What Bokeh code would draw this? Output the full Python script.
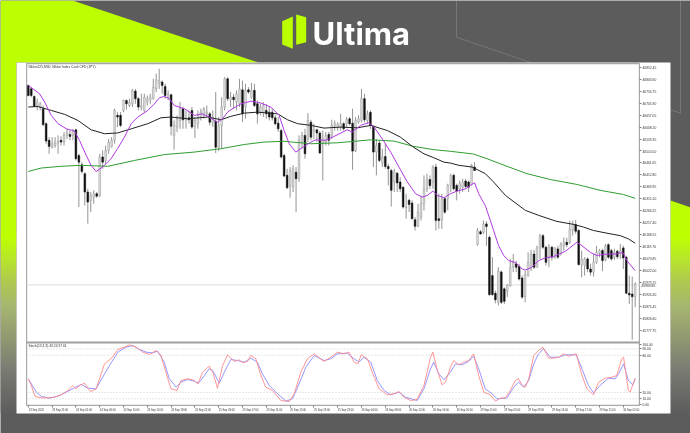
from bokeh.embed import file_html
from bokeh.resources import INLINE
from bokeh.plotting import figure
from bokeh.models import (BoxAnnotation, PolyAnnotation, Label, LinearAxis, FixedTicker,
                          Range1d, ColumnDataSource)

opens = [46778,46764,46733,46696,46690,46683,46622,46554,46526,46532,
46543,46554,46547,46574,46578,46574,46597,46492,46454,46418,
46343,46309,46322,46336,46329,46486,46472,46513,46529,46554,
46656,46656,46676,46717,46696,46703,46755,46724,46687,46676,
46710,46720,46724,46764,46788,46792,46774,46730,46740,46574,
46608,46635,46683,46638,46646,46676,46611,46622,46649,46656,
46662,46662,46628,46632,46526,46615,46690,46805,46720,46730,
46710,46703,46760,46690,46760,46730,46758,46703,46669,46669,
46676,46669,46669,46646,46624,46594,46492,46411,46366,46363,
46424,46397,46547,46574,46560,46628,46592,46597,46584,46540,
46547,46578,46574,46611,46608,46608,46622,46622,46642,46624,
46510,46628,46635,46724,46635,46669,46611,46506,46543,46461,
46488,46447,46431,46384,46420,46384,46363,46279,46309,46298,
46230,46203,46241,46295,46356,46394,46384,46445,46234,46230,
46316,46316,46370,46411,46370,46356,46363,46388,46384,46374,
46445,46129,46181,46179,46213,46158,46002,45930,45893,46017,
45948,45938,45961,46036,46050,46039,45992,45916,46002,46036,
46090,46036,46115,46165,46118,46077,46118,46077,46111,46090,
46124,46138,46138,46188,46210,46186,46047,46043,46070,46029,
46016,46056,46093,46104,46066,46128,46104,46077,46101,46093,
46115,46077,45930,45927,45916]
highs = [46782,46771,46737,46724,46710,46696,46628,46567,46567,46567,
46574,46570,46588,46601,46594,46601,46601,46499,46465,46424,
46356,46343,46350,46343,46499,46513,46533,46560,46567,46683,
46669,46669,46720,46720,46724,46764,46764,46730,46744,46744,
46737,46744,46805,46826,46846,46798,46785,46758,46744,46635,
46656,46710,46690,46676,46676,46690,46649,46676,46683,46690,
46696,46669,46676,46751,46649,46730,46812,46812,46751,46744,
46758,46805,46798,46785,46771,46788,46785,46717,46703,46710,
46703,46690,46683,46656,46649,46601,46499,46438,46445,46452,
46445,46574,46588,46601,46665,46638,46622,46601,46592,46594,
46588,46588,46638,46635,46628,46662,46628,46649,46649,46683,
46649,46656,46764,46744,46676,46676,46615,46560,46554,46520,
46540,46458,46438,46438,46424,46404,46366,46336,46316,46309,
46241,46295,46329,46411,46418,46411,46452,46458,46336,46336,
46322,46377,46418,46418,46377,46390,46397,46397,46390,46458,
46465,46196,46188,46226,46224,46165,46077,45941,46036,46022,
45954,45968,46070,46090,46063,46050,46002,46022,46097,46107,
46107,46124,46172,46172,46124,46131,46124,46118,46124,46138,
46158,46156,46226,46226,46229,46192,46104,46077,46077,46050,
46090,46124,46111,46111,46131,46134,46111,46111,46107,46131,
46124,46084,46002,45998,45975]
lows = [46733,46730,46690,46676,46676,46612,46540,46499,46520,46524,
46499,46533,46533,46560,46554,46554,46472,46282,46418,46288,
46214,46261,46295,46320,46322,46438,46458,46499,46524,46540,
46608,46608,46669,46679,46690,46690,46703,46676,46676,46669,
46696,46703,46720,46751,46764,46744,46724,46717,46574,46516,
46588,46601,46601,46601,46622,46601,46564,46601,46635,46642,
46649,46615,46608,46502,46510,46520,46676,46714,46690,46683,
46676,46690,46628,46642,46744,46724,46690,46622,46656,46649,
46642,46635,46635,46615,46588,46479,46404,46356,46320,46343,
46261,46384,46520,46479,46547,46554,46560,46547,46499,46390,
46533,46533,46560,46594,46594,46594,46594,46608,46615,46434,
46506,46622,46628,46628,46622,46601,46445,46411,46465,46445,
46438,46370,46284,46343,46343,46343,46275,46234,46261,46230,
46186,46200,46227,46268,46343,46356,46356,46186,46193,46193,
46254,46268,46343,46350,46309,46336,46343,46356,46343,46370,
46428,46124,46169,46172,46124,45920,45920,45889,45880,45886,
45886,45914,45957,46016,46016,45982,45907,45893,45998,46022,
46029,46036,46070,46111,46043,46036,46063,46070,46070,46084,
46104,46118,46131,46165,46172,46043,45995,46002,46016,46002,
45998,46050,46077,46020,46060,46070,46063,46066,46070,46070,
46029,45927,45886,45740,45873]
closes = [46737,46737,46692,46710,46703,46618,46551,46529,46540,46543,
46550,46547,46574,46584,46570,46592,46479,46465,46427,46343,
46302,46329,46336,46326,46486,46465,46513,46547,46554,46676,
46649,46615,46717,46703,46710,46758,46724,46690,46696,46730,
46724,46730,46771,46801,46798,46778,46737,46740,46611,46615,
46642,46683,46638,46646,46638,46608,46635,46656,46669,46683,
46669,46628,46649,46526,46615,46690,46805,46724,46730,46720,
46744,46764,46662,46758,46751,46758,46696,46662,46690,46696,
46662,46649,46646,46622,46601,46486,46408,46360,46431,46438,
46397,46554,46574,46499,46635,46567,46597,46584,46502,46560,
46574,46554,46615,46622,46619,46622,46601,46638,46622,46510,
46635,46642,46724,46638,46662,46615,46506,46533,46472,46486,
46447,46438,46350,46424,46380,46356,46282,46282,46292,46234,
46203,46261,46295,46356,46397,46370,46445,46227,46227,46316,
46261,46370,46411,46356,46347,46377,46384,46366,46363,46452,
46431,46186,46172,46213,46202,45924,45924,45903,46020,45893,
45897,45961,46036,46056,46036,45988,45914,46006,46056,46090,
46036,46115,46165,46118,46056,46118,46077,46114,46077,46131,
46138,46128,46192,46210,46183,46047,46070,46070,46029,46016,
46056,46097,46104,46063,46124,46077,46070,46097,46079,46104,
46074,45930,45923,45916,45968]

ma_fast_x = [0,1.6,3.8,5.5,7.7,10,12.8,15.5,17.2,19.5,21.1,22.8,25,27.8,30,32.3,34.6,36.8,40.2,42.4,44.1,45.7,47.4,49.1,52.5,55.8,58.6,60.8,63.6,65.3,67,
             68.1,71.5,74.8,78.2,81.5,84.3,86,87.7,89.9,92.1,95,96.6,100,102.8,107.2,108.9,111.7,114.5,116.2,119,121.8,124.6,127.4,130.2,132.4,134.1,136,137.5,139.7,141.9,
             144.1,147,148.6,150,151.4,153.6,155.3,156.4,158.1,159.8,161.5,163.7,166,167.1,169.3,171.5,173.8,176.6,180.5,184.4,186.1,188.9,191.1,194.5,197.8,199.8,201.2,204]
ma_fast_v = [46778,46764,46744,46710,46656,46622,46601,46592,46554,46492,46452,46427,46445,46479,46520,46567,46622,46649,46676,46703,46728,46733,46724,46696,46683,46656,46662,46649,46628,46642,46669,
             46679,46703,46714,46706,46690,46656,46594,46540,46506,46524,46547,46556,46554,46570,46597,46588,46615,46626,46608,46560,46506,46445,46384,46336,46322,46329,46347,46329,46320,46336,
             46347,46356,46370,46381,46336,46288,46227,46186,46124,46084,46063,46056,46029,46025,46036,46063,46074,46080,46101,46138,46124,46097,46084,46090,46090,46097,46063,46022]
ma_mid_x = [0,3.2,7.7,12.2,16.7,21.1,25.6,30,34.6,40.2,44.6,48,53.6,60.3,64.8,68.1,72.6,77,83.8,87.1,90.5,95,99.4,105,110.6,115.1,120.7,125.1,129.1,133,136.3,139.7,142,
            144.7,149.2,153.6,156.4,160.4,167.1,171.5,177.7,183.3,186.6,190,194.5,199,201.7,204]
ma_mid_v = [46690,46692,46676,46660,46635,46597,46581,46584,46601,46622,46646,46649,46642,46649,46638,46652,46665,46669,46662,46638,46622,46615,46604,46608,46605,46615,46594,46567,46529,46499,46483,46465,46461,
            46452,46445,46418,46384,46329,46268,46248,46223,46211,46200,46186,46175,46165,46152,46134]
ma_slow_x = [0,4.4,11,17.8,26.7,35.7,45.8,55.8,64.8,72.6,79.3,86,95,103.9,115.1,122.9,129.6,136.3,142,149.7,154.2,160.9,167.6,175.5,184.4,192.2,200,204]
ma_slow_v = [46427,46441,46448,46452,46448,46472,46496,46506,46520,46537,46547,46550,46540,46544,46556,46551,46529,46516,46509,46498,46479,46448,46418,46394,46374,46350,46333,46317]

stoch_k_x = [0,1,2.3,4.4,6.6,8.8,11.1,13.3,15,16.1,17.2,18.9,20.9,22.8,24.5,25.6,27.8,30.1,32.3,34,36.2,38.5,40.7,43,44.6,46.9,48,50,51.3,53.6,55.8,57,58.6,60.8,62,63.6,65.3,67,
             68.1,69.2,70.9,72,73.7,74.8,76.5,78.2,79.8,82.1,84.9,87.7,89.4,91.6,93.8,96.1,99.4,101.7,103.9,106.1,107.8,109.5,110.8,111.9,114,115.6,117.9,120.7,122.9,124.6,126.3,128.5,130.7,133,135.2,136,137.5,139.1,140.2,141.9,
             143,144.7,146.4,148,149.7,151.4,153.1,155.3,157,158.7,160.4,162,163.7,164.8,166,167.1,168.2,169.9,171.5,173,174.9,176.6,178.3,179.9,181.6,184.2,186.1,187.8,190,191.7,193.9,196.2,197.8,199.5,200.1,201.7,202.3,204]
stoch_k_v = [42,31.3,13.6,11.4,11.4,12.5,16.3,23.2,31.3,25.9,31.3,35,21.6,25.9,50,66.1,74.2,89.2,92.9,96.7,92.9,84.9,81.1,87.6,79.5,42,25.9,23.2,39.3,42,39.3,33.9,52.7,62.4,52.7,27,63.4,80.6,
             75.2,69.9,72.5,67.7,69.9,79.5,74.2,47.3,28.6,23.2,7.1,5.5,17.9,52.7,74.2,82.2,69.9,76.8,84.9,82.2,84.9,68.8,66.1,80.6,74.2,52.7,25.9,16.3,17.9,21.6,12.5,7.1,8.8,31.3,76.8,84.9,55.4,32.3,36.6,60.7,
             71.5,64.5,68.8,71.5,82.2,47.3,20.6,16.3,6.1,10.9,11.4,23.2,39.3,42,31.3,28.6,42,79.5,87.6,92.9,75.2,75.2,76.8,82.2,78.4,82.2,47.3,25.9,16.3,36.6,43,44.7,47.3,74.2,76.8,23.2,20.6,43]
stoch_d_x = [0,2.7,4.4,7.2,10,12.8,15.5,17.8,20,22.8,25,27.3,30.1,32.9,35.1,37.4,39.6,41.8,43.5,45.7,47.4,49.7,51.3,53.6,55.8,57.2,59.2,60.8,62,64.2,65.9,67.6,
             68.1,70.3,72.6,74.8,77,78.7,81,83.8,86.6,88.8,91,93.3,96.1,99.4,101.7,103.9,107.2,109.5,111.2,112.8,115.1,117.3,119.6,121.8,124.6,126.8,130.7,133,135.2,136.3,138,139.7,141.9,
             143.6,145.8,148,149.7,151.4,153.6,155.9,157.6,160.9,163.2,164.8,166.5,168.2,169.9,171.5,173.2,175.5,178.3,180.5,184.2,186.1,188.3,190,192.2,195,197.3,198.4,200.1,201.7,203.2,204]
stoch_d_v = [42,20.6,13.6,10.9,14.1,20.6,27.5,32.9,27,25.9,44.7,63.4,84.9,92.9,95.6,89.2,84.9,83.8,86.5,68.8,42,28.6,36.6,40.9,38.2,35,47.3,58.1,55.4,35,52.7,68.8,
             73.1,71.5,68.8,75.2,68.8,50,31.3,17.9,6.1,9.8,33.9,60.7,79.5,71.5,74.2,82.2,83.3,74.2,68.8,76.8,68.8,39.3,23.2,16.3,20.6,12.5,7.1,25.9,58.1,68.8,50,40.4,52.7,
             66.1,64.5,69.9,78.4,58.1,25.9,17.9,9.8,11.4,28.6,36.6,28.6,39.3,66.1,82.2,90.2,76.8,76.8,80.6,80.6,58.1,31.3,19.5,31.3,43,42,50,66.1,39.3,32.3,42]

price_ticks = [46852.45,46803.60,46754.75,46705.90,46657.05,46608.20,46559.35,46510.50,46461.65,46412.80,46363.95,46315.10,
               46266.25,46217.40,46168.55,46119.70,46070.85,46022.00,45973.15,45924.30,45875.45,45826.60,45777.75]
stoch_ticks = [98.0, 90.0, 80.0, 20.0, 10.0, 1.0]
stoch_tick_labels = ["100.00", "90.00", "80.00", "20.00", "10.00", "0.00"]
stoch_levels = [90, 80, 20, 10]
current_price = 45964
current_label = "45963.45"
time_labels = ["23 Sep 2025","23 Sep 21:00","24 Sep 02:00","24 Sep 06:00","24 Sep 10:00","24 Sep 14:00","24 Sep 18:00","24 Sep 22:00",
               "25 Sep 03:00","25 Sep 07:00","25 Sep 11:00","25 Sep 15:00","25 Sep 19:00","25 Sep 23:00","26 Sep 04:00","26 Sep 08:00",
               "26 Sep 12:00","26 Sep 16:00","26 Sep 20:00","29 Sep 01:00","29 Sep 05:00","29 Sep 09:00","29 Sep 13:00","29 Sep 17:00",
               "29 Sep 21:00","30 Sep 02:00"]
title_text = "Nikkei225,M30:  Nikkei Index Cash CFD (JPY)"
stoch_text = "Stoch(13,3,3) 43.24 37.61"
brand = "Ultima"

W, H = 690, 433
F_L, F_T, F_R, F_B = 26, 63, 639, 405
DARK, LIME = "#5c5c5c", "#bcff00"

X0, XS = 27.8, 2.975
PY, PS = 66.7, 4.081
K80, KS = 354.7, 0.6217


def sx(px):
    return (px - X0) / XS


def sp(py):
    return 46852.45 - (py - PY) * PS


def stoch_to_price(v):
    return sp(K80 - (v - 80) * KS)


p = figure(width=W, height=H, output_backend="svg", toolbar_location=None,
           x_range=Range1d(sx(0), sx(W)), y_range=Range1d(sp(H), sp(0)),
           min_border=0, background_fill_color=DARK, border_fill_color=DARK, outline_line_color=None)
p.styles = {"position": "fixed", "left": "0px", "top": "0px"}
p.grid.visible = False
p.xaxis.visible = False
p.yaxis.visible = False
p.extra_y_ranges = {"stoch": Range1d(80 - (H - K80) / KS, 80 + K80 / KS)}


def poly(xs, ys, **kw):
    return PolyAnnotation(xs=xs, ys=ys, xs_units="canvas", ys_units="canvas", level="underlay",
                          line_color=None, **kw)


def box(l, r, t, b, color, level="underlay"):
    return BoxAnnotation(left=l, right=r, top=t, bottom=b, left_units="canvas", right_units="canvas",
                         top_units="canvas", bottom_units="canvas", fill_color=color, fill_alpha=1,
                         line_color=None, level=level)


# page decoration
p.add_layout(poly([0, 72, 258, 16, 16, 0], [0, 0, 62, 62, 236, 236], fill_color=LIME, fill_alpha=1))
p.add_layout(poly([670, 690, 690, 670], [200, 207, 236, 236], fill_color=LIME, fill_alpha=1))
stops = [(235, (0xbc, 0xff, 0x00)), (255, (0xb8, 0xe8, 0x28)), (280, (0xae, 0xc8, 0x50)), (305, (0xa5, 0xb5, 0x70)), (367, (0x7a, 0x7c, 0x72)), (412, (0x5c, 0x5c, 0x5c))]
for y in range(235, 412, 3):
    for (a, ca), (b, cb) in zip(stops, stops[1:]):
        if a <= y < b:
            t = (y - a) / (b - a)
            col = "#%02x%02x%02x" % tuple(round(u + (v - u) * t) for u, v in zip(ca, cb))
            p.add_layout(poly([0, 16, 16, 0], [y, y, y + 3.5, y + 3.5], fill_color=col, fill_alpha=1))
            p.add_layout(poly([670, 690, 690, 670], [y, y, y + 3.5, y + 3.5], fill_color=col, fill_alpha=1))
for xs, ys in (([456, 456, 530], [0, 36.7, 62]), ([680, 680, 670], [0, 112.7, 109.3])):
    for i in range(len(xs) - 1):
        p.add_layout(PolyAnnotation(xs=[xs[i], xs[i + 1]], ys=[ys[i], ys[i + 1]], xs_units="canvas", ys_units="canvas",
                                    level="underlay", fill_alpha=0, line_color="#b4b4b4", line_width=1))
p.add_layout(poly([281.7, 292.3, 292.3, 281.7], [20.7, 16, 48.3, 44], fill_color=LIME, fill_alpha=1))
p.add_layout(poly([295.7, 305.7, 305.7, 295.7], [14, 16.7, 41.7, 44.3], fill_color=LIME, fill_alpha=1))
p.add_layout(box(16, 670, 62, 413, "white"))
p.add_layout(Label(x=312, y=32.5, x_units="canvas", y_units="canvas", text=brand, text_color="white",
                   text_font="Inter", text_font_size="31px", text_font_style="bold", text_baseline="middle"))

# pane frames
GREY = "#a8a8a8"
p.add_layout(box(F_L - 0.5, F_L + 0.7, F_T, F_B, GREY))
p.add_layout(box(F_R - 0.7, F_R + 0.5, F_T, F_B, GREY))
p.add_layout(box(F_L, F_R, F_T - 0.5, F_T + 0.7, GREY))
p.add_layout(box(F_L, F_R, F_B - 0.7, F_B + 0.5, GREY))
p.add_layout(box(F_L, F_R, 341, 343, "#a0a0a0"))
pane_x = [sx(F_L), sx(F_R)]
p.line(pane_x, [current_price] * 2, line_color="#dcdcdc", line_width=1)
for lv in stoch_levels:
    p.line(pane_x, [lv] * 2, y_range_name="stoch", line_color="#bdbdbd", line_width=0.7, line_dash=[1, 2])

# candles
idx = list(range(len(opens)))
src = ColumnDataSource(dict(x=idx, o=opens, h=highs, l=lows, c=closes,
                            top=[max(a, b) for a, b in zip(opens, closes)],
                            bot=[min(a, b) for a, b in zip(opens, closes)],
                            fill=["#111111" if c < o else "#dedede" for o, c in zip(opens, closes)],
                            line=["#111111" if c < o else "#999999" for o, c in zip(opens, closes)]))
p.segment("x", "h", "x", "l", source=src, line_color="#949494", line_width=1)
p.vbar("x", 0.58, "top", "bot", source=src, fill_color="fill", line_color="line", line_width=0.5)

p.line(ma_slow_x, ma_slow_v, line_color="#2f9e2f", line_width=1)
p.line(ma_mid_x, ma_mid_v, line_color="#222222", line_width=1)
p.line(ma_fast_x, ma_fast_v, line_color="#b03ae0", line_width=1)

p.line(stoch_d_x, stoch_d_v, y_range_name="stoch", line_color="#8a8aff", line_width=0.9)
p.line(stoch_k_x, stoch_k_v, y_range_name="stoch", line_color="#ff8a8a", line_width=0.9)

# axes
right_ticks = price_ticks + [round(stoch_to_price(v), 2) for v in stoch_ticks]
right_over = {round(stoch_to_price(v), 2): s for v, s in zip(stoch_ticks, stoch_tick_labels)}
right_over.update({v: "%.2f" % v for v in price_ticks})
ax = LinearAxis(ticker=FixedTicker(ticks=right_ticks), major_label_overrides=right_over, fixed_location=sx(F_R),
                major_label_text_font="Liberation Sans", major_label_text_font_size="3.3px",
                major_label_text_color="#333333", major_label_standoff=1, major_tick_in=0, major_tick_out=2,
                minor_tick_out=0, minor_tick_in=0, axis_line_color=None, major_tick_line_color="#808080")
p.add_layout(ax, "right")
tick_pos = [8 * i for i in range(len(time_labels))]
lab_pos = [t + 2.7 for t in tick_pos]
bx = LinearAxis(ticker=FixedTicker(ticks=lab_pos, minor_ticks=tick_pos), fixed_location=sp(F_B),
                major_label_overrides=dict(zip(lab_pos, time_labels)),
                major_label_text_font="Liberation Sans", major_label_text_font_size="2.7px",
                major_label_text_color="#333333", major_label_standoff=1, major_tick_in=0, major_tick_out=0,
                minor_tick_in=0, minor_tick_out=2, axis_line_color=None, minor_tick_line_color="#808080")
p.add_layout(bx, "below")

# texts
p.add_layout(Label(x=28, y=66, x_units="canvas", y_units="canvas", text=title_text, text_font="Liberation Sans",
                   text_font_size="3.3px", text_color="#333333", text_baseline="middle"))
p.add_layout(Label(x=28, y=345.7, x_units="canvas", y_units="canvas", text=stoch_text, text_font="Liberation Sans",
                   text_font_size="3.3px", text_color="#333333", text_baseline="middle"))
p.add_layout(Label(x=641, y=284.6, x_units="canvas", y_units="canvas", text=current_label, text_font="Liberation Sans",
                   text_font_size="3.3px", text_color="#666666", text_baseline="middle", level="overlay",
                   background_fill_color="#dcdcdc", background_fill_alpha=1))

open("out.html", "w").write(file_html(p, INLINE))
